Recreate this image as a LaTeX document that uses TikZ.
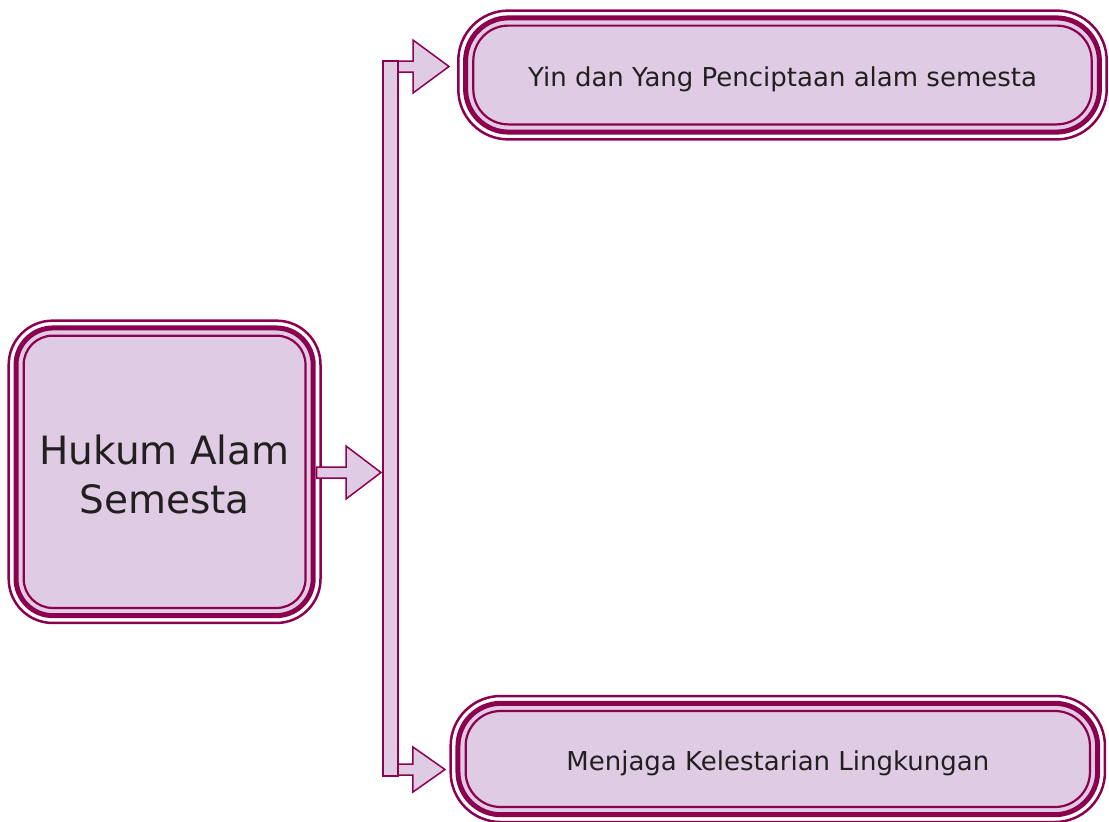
\documentclass[tikz,border=0pt]{standalone}
\usepackage{fontspec}
\setmainfont{DejaVu Sans}
\usetikzlibrary{calc,backgrounds}
\definecolor{dk}{RGB}{140,0,80}
\definecolor{lt}{RGB}{224,203,228}
\definecolor{txt}{RGB}{35,31,32}
\tikzset{
  outerbox/.style={draw=dk, line width=2.5pt, inner sep=0pt, outer sep=0pt, text=txt, align=center},
  arr/.style={draw=dk, fill=lt, line width=1.5pt, line join=miter},
}
\newcommand\lowered[2]{\raisebox{-#1}[\height][\depth]{#2}}
% layers inside a box: name, middle radius, inner radius
\newcommand\boxlayers[3]{%
  \draw[dk, line width=5pt, fill=lt, rounded corners=#2]
    ($(#1.north west)+(7.3pt,-7.3pt)$) rectangle ($(#1.south east)+(-7.3pt,7.3pt)$);
  \draw[dk, line width=2.2pt, rounded corners=#3]
    ($(#1.north west)+(15pt,-15pt)$) rectangle ($(#1.south east)+(-15pt,15pt)$);
}
% block arrow: start, tip, shaft half, head half, head length
\newcommand\blockarrow[5]{%
  \draw[arr] let \p1=(#1), \p2=(#2) in
    (\x1,{\y1+#3}) -- ({\x2-#5},{\y1+#3}) -- ({\x2-#5},{\y1+#4}) -- (\x2,\y1)
    -- ({\x2-#5},{\y1-#4}) -- ({\x2-#5},{\y1-#3}) -- (\x1,{\y1-#3}) -- cycle;
}
\begin{document}
\begin{tikzpicture}[x=1pt,y=-1pt]
\useasboundingbox (0,0) rectangle (1109,822);

\node[outerbox, rounded corners=44pt, minimum width=311.8pt, minimum height=302.3pt,
      font=\fontsize{39}{49}\selectfont] (hukum) at (164.6,471.8) {\lowered{3pt}{Hukum Alam}\\\lowered{3pt}{Semesta}};
\node[outerbox, rounded corners=50pt, minimum width=648.4pt, minimum height=128.8pt,
      font=\fontsize{26}{30}\selectfont] (yin) at (782.5,75) {\lowered{4pt}{Yin dan Yang Penciptaan alam semesta}};
\node[outerbox, rounded corners=50pt, minimum width=654.3pt, minimum height=126pt,
      font=\fontsize{26}{30}\selectfont] (menjaga) at (777.8,759) {\lowered{4pt}{Menjaga Kelestarian Lingkungan}};

\begin{scope}[on background layer]
  \fill[white] (0,0) rectangle (1109,822);
  \boxlayers{hukum}{37pt}{29pt}
  \boxlayers{yin}{43pt}{35pt}
  \boxlayers{menjaga}{43pt}{35pt}
\end{scope}

\node[draw=dk, fill=lt, line width=1.5pt, minimum width=15pt, minimum height=715pt,
      inner sep=0pt, outer sep=0pt] (bar) at (390.5,418.5) {};

\coordinate (a1s) at ($(bar.north east)+(0,-5.5pt)$);
\coordinate (a1t) at ($(yin.west)+(-9.3pt,0)$);
\coordinate (a2s) at ($(bar.south east)+(0,6.5pt)$);
\coordinate (a2t) at ($(menjaga.west)+(-5.7pt,0)$);
\coordinate (a3s) at ($(hukum.east)+(-4pt,-0.7pt)$);
\coordinate (a3t) at ($(bar.west)+(-2pt,0)$);

\blockarrow{a1s}{a1t}{5.5pt}{26.5pt}{36pt}
\blockarrow{a2s}{a2t}{5.5pt}{22.5pt}{32pt}
\blockarrow{a3s}{a3t}{5.5pt}{26.5pt}{35pt}
\end{tikzpicture}
\end{document}
